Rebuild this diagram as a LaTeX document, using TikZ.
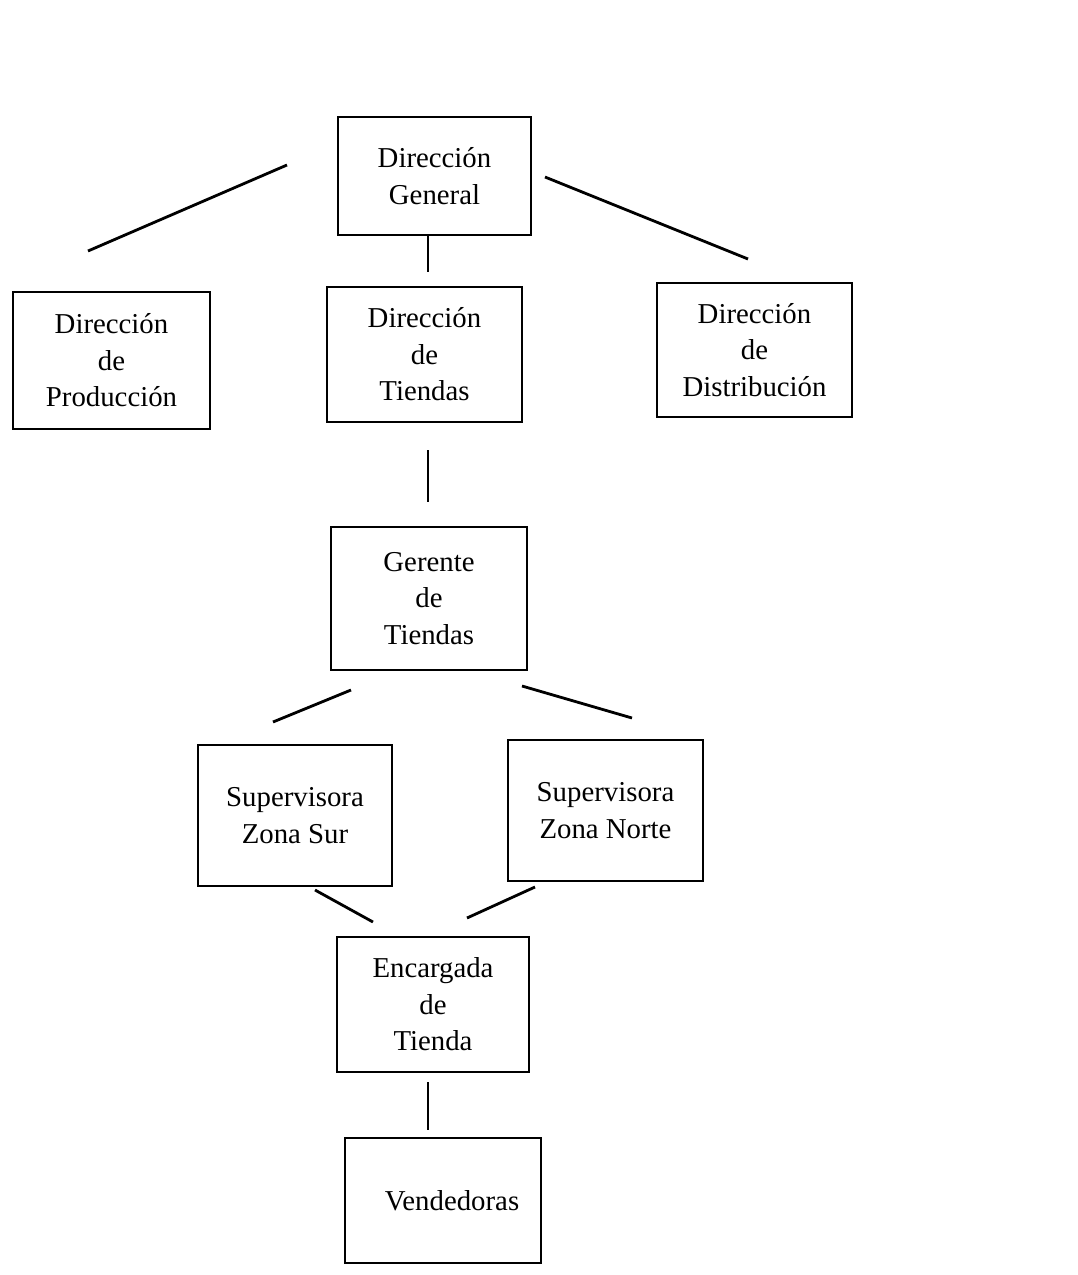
\documentclass[tikz,border=0pt]{standalone}
\usepackage{fontspec}
\setmainfont{Liberation Serif}
\begin{document}
\begin{tikzpicture}[x=0.5pt,y=-0.5pt,
  box/.style={draw=black, line width=1.4pt, inner sep=0pt, align=center,
    font=\fontsize{14.4}{18.2}\selectfont},
  link/.style={draw=black, line width=1.4pt}]
\useasboundingbox[fill=white] (0,0) rectangle (1077,1275);
% boxes
\node[box, minimum width=96.5pt, minimum height=59pt] (gen) at (434.5,176) {Dirección\\General};
\node[box, minimum width=98.5pt, minimum height=68.5pt] (prod) at (111.5,360.5) {Dirección\\de\\Producción};
\node[box, minimum width=97.5pt, minimum height=67.5pt] (tien) at (424.5,354.5) {Dirección\\de\\Tiendas};
\node[box, minimum width=97.5pt, minimum height=67pt] (dist) at (754.5,350) {Dirección\\de\\Distribución};
\node[box, minimum width=98pt, minimum height=71.5pt] (ger) at (429,598.5) {Gerente\\de\\Tiendas};
\node[box, minimum width=97pt, minimum height=70.5pt] (sur) at (295,815.5) {Supervisora\\Zona Sur};
\node[box, minimum width=97.5pt, minimum height=70.5pt] (norte) at (605.5,810.5) {Supervisora\\Zona Norte};
\node[box, minimum width=96pt, minimum height=67.5pt] (enc) at (433,1004.5) {Encargada\\de\\Tienda};
\node[box, minimum width=98pt, minimum height=62.5pt] (ven) at (443,1200.5) {\hspace*{9pt}Vendedoras};
% free connector ends
\coordinate (a1) at (287,165); \coordinate (a2) at (88,251);
\coordinate (b1) at (545,177); \coordinate (b2) at (748,259);
\coordinate (c1) at (428,235); \coordinate (c2) at (428,272);
\coordinate (d1) at (428,450); \coordinate (d2) at (428,502);
\coordinate (e1) at (351,690); \coordinate (e2) at (273,722);
\coordinate (f1) at (522,686); \coordinate (f2) at (632,718);
\coordinate (g1) at (315,890); \coordinate (g2) at (373,922);
\coordinate (h1) at (535,887); \coordinate (h2) at (467,918);
\coordinate (i1) at (428,1082); \coordinate (i2) at (428,1130);
\draw[link] (a1) -- (a2);
\draw[link] (b1) -- (b2);
\draw[link] (c1) -- (c2);
\draw[link] (d1) -- (d2);
\draw[link] (e1) -- (e2);
\draw[link] (f1) -- (f2);
\draw[link] (g1) -- (g2);
\draw[link] (h1) -- (h2);
\draw[link] (i1) -- (i2);
\end{tikzpicture}
\end{document}
